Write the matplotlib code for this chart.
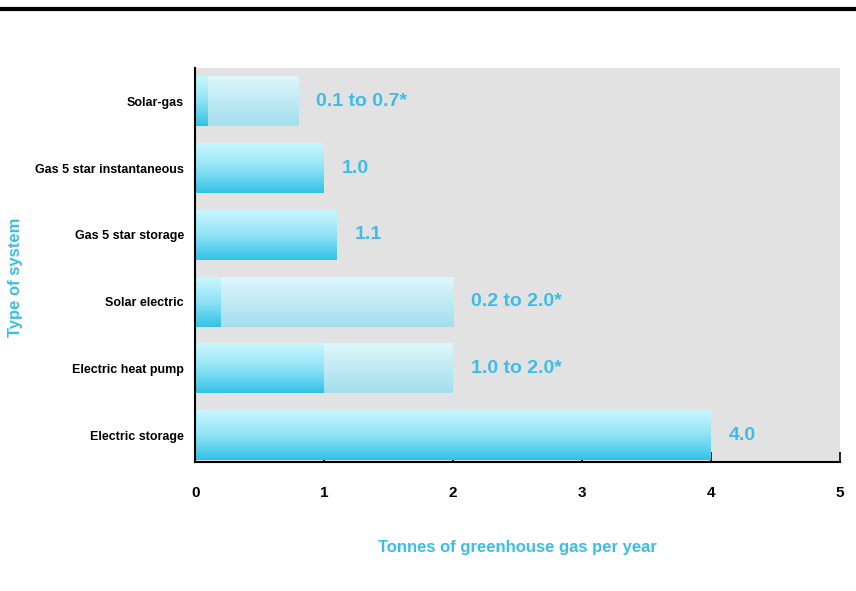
import matplotlib.pyplot as plt
import numpy as np
from matplotlib.colors import LinearSegmentedColormap
from matplotlib.lines import Line2D

systems = ["Electric storage", "Electric heat pump", "Solar electric",
           "Gas 5 star storage", "Gas 5 star instantaneous", "Solar-gas"]
low = [4.0, 1.0, 0.2, 1.1, 1.0, 0.1]
high = [4.0, 2.0, 2.0, 1.1, 1.0, 0.8]
labels = ["4.0", "1.0 to 2.0*", "0.2 to 2.0*", "1.1", "1.0", "0.1 to 0.7*"]

cyan = "#3cbde8"
fam = ["Liberation Sans", "DejaVu Sans"]
cmap = LinearSegmentedColormap.from_list("bar", ["#c9f6ff", "#8fe3f5", "#33c2e6"])
pale = LinearSegmentedColormap.from_list("pale", ["#def7fb", "#bfeaf3", "#a3dfee"])
grad = np.linspace(0, 1, 64).reshape(-1, 1)

fig = plt.figure(figsize=(8.56, 5.91), dpi=100)
ax = fig.add_axes([0.228, 0.218, 0.753, 0.667])
ax.set_facecolor("#e2e2e2")

h = 0.74
for i in range(len(systems)):
    # solid part
    ax.imshow(grad, extent=(0, low[i], i - h / 2, i + h / 2), cmap=cmap,
              aspect="auto", zorder=2)
    # pale range part
    if high[i] > low[i]:
        ax.imshow(grad, extent=(low[i], high[i], i - h / 2, i + h / 2), cmap=pale,
                  aspect="auto", zorder=2)
    ax.annotate(labels[i], (high[i], i), xytext=(13, 0), textcoords="offset points",
                va="center", ha="left", color=cyan, fontsize=14, fontweight="bold",
                family=fam)

ax.set_xlim(0, 5)
ax.set_ylim(-0.4, 5.5)
ax.set_yticks(range(len(systems)))
ax.set_yticklabels(systems, family=fam, fontweight="bold", fontsize=9)
ax.set_xticks(range(6))
ax.set_xticklabels([str(v) for v in range(6)], family=fam, fontweight="bold", fontsize=11)
ax.tick_params(axis="y", length=0, pad=8)
ax.tick_params(axis="x", direction="in", length=7, width=1.2, pad=17)
ax.spines["top"].set_visible(False)
ax.spines["right"].set_visible(False)
ax.spines["left"].set_linewidth(1.5)
ax.spines["bottom"].set_linewidth(1.5)

ax.set_xlabel("Tonnes of greenhouse gas per year", color=cyan, fontsize=12,
              fontweight="bold", family=fam, labelpad=29)
fig.text(0.018, 0.531, "Type of system", color=cyan, fontsize=12, fontweight="bold",
         family=fam, rotation=90, ha="center", va="center")

fig.add_artist(Line2D([0, 1], [0.985, 0.985], color="black", linewidth=3,
                      transform=fig.transFigure))

plt.savefig("out.png", dpi=100)
